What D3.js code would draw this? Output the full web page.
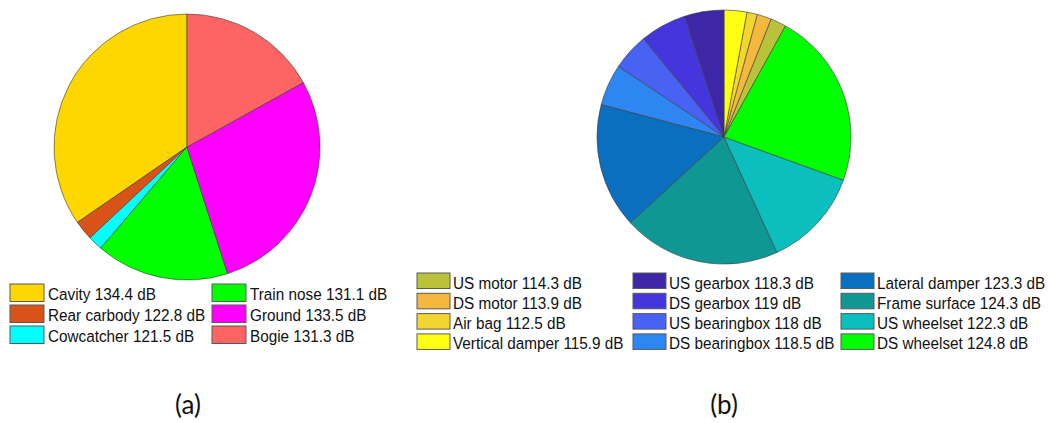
<!DOCTYPE html>
<html>
<head>
<meta charset="utf-8">
<script src="https://cdn.jsdelivr.net/npm/d3@7"></script>
<style>
  html, body { margin: 0; padding: 0; background: #fff; }
  svg { display: block; }
</style>
</head>
<body>
<svg id="chart" width="1048" height="423"></svg>
<script>
// (a) overall noise sources
const sourceNames = ["Cavity", "Rear carbody", "Cowcatcher", "Train nose", "Ground", "Bogie"];
const sourceLevels = [134.4, 122.8, 121.5, 131.1, 133.5, 131.3];
const sourceColors = ["#ffd700", "#d95319", "#00ffff", "#00ff00", "#ff00ff", "#ff6464"];

// (b) bogie component noise sources (listed column by column as in the legend)
const partNames = [
  "US motor", "DS motor", "Air bag", "Vertical damper",
  "US gearbox", "DS gearbox", "US bearingbox", "DS bearingbox",
  "Lateral damper", "Frame surface", "US wheelset", "DS wheelset"
];
const partLevels = [114.3, 113.9, 112.5, 115.9, 118.3, 119, 118, 118.5, 123.3, 124.3, 122.3, 124.8];
const partLabels = ["114.3", "113.9", "112.5", "115.9", "118.3", "119", "118", "118.5", "123.3", "124.3", "122.3", "124.8"];
const partColors = [
  "#b9c23a", "#f5b83f", "#f3d530", "#ffff14",
  "#3d27a6", "#4535dc", "#4862f4", "#2d86f2",
  "#0b6fc0", "#0f9893", "#0bbfbf", "#00ff00"
];
// order in which the slices run counter-clockwise from twelve o'clock
const partSliceOrder = [
  "US gearbox", "DS gearbox", "US bearingbox", "DS bearingbox",
  "Lateral damper", "Frame surface", "US wheelset", "DS wheelset",
  "US motor", "DS motor", "Air bag", "Vertical damper"
];
const panelLabels = ["(a)", "(b)"];

const svg = d3.select("#chart");

// slice size is the acoustic power share of each source
const power = db => Math.pow(10, db / 10);

function drawPie(cx, cy, r, items, sortFn) {
  const pie = d3.pie()
    .value(d => power(d.level))
    .sort(sortFn)
    .startAngle(0)
    .endAngle(-2 * Math.PI);
  const arc = d3.arc().innerRadius(0).outerRadius(r);
  svg.append("g")
    .attr("transform", `translate(${cx},${cy})`)
    .selectAll("path")
    .data(pie(items))
    .join("path")
    .attr("d", arc)
    .attr("fill", d => d.data.color)
    .attr("stroke", "#3a3a3a")
    .attr("stroke-width", 0.6)
    .attr("stroke-linejoin", "round");
}

function drawLegend(items, cols, opts) {
  const g = svg.append("g");
  items.forEach((d, i) => {
    const col = cols(i);
    const row = opts.row(i);
    const x = opts.colX[col];
    const y = opts.top + row * opts.pitch;
    g.append("rect")
      .attr("x", x).attr("y", y)
      .attr("width", opts.boxW).attr("height", opts.boxH)
      .attr("fill", d.color)
      .attr("stroke", "#5a5a5a")
      .attr("stroke-width", 1);
    g.append("text")
      .attr("transform", `translate(${x + opts.boxW + opts.gap},${y + 15.5}) scale(0.9,1)`)
      .attr("font-family", "'Liberation Sans', Arial, sans-serif")
      .attr("font-size", 17)
      .attr("fill", "#111")
      .text(d.text);
  });
}

// ---- panel (a)
const sources = sourceNames.map((n, i) => ({
  name: n, level: sourceLevels[i], color: sourceColors[i],
  text: `${n} ${sourceLevels[i]} dB`
}));
drawPie(187, 147, 133, sources, null);
drawLegend(sources, i => Math.floor(i / 3), {
  row: i => i % 3, colX: [10, 212], top: 284, pitch: 21,
  boxW: 34, boxH: 17.5, gap: 4
});

// ---- panel (b)
const parts = partNames.map((n, i) => ({
  name: n, level: partLevels[i], color: partColors[i],
  text: `${n} ${partLabels[i]} dB`
}));
drawPie(724, 137, 127, parts,
  (a, b) => partSliceOrder.indexOf(a.name) - partSliceOrder.indexOf(b.name));
drawLegend(parts, i => Math.floor(i / 4), {
  row: i => i % 4, colX: [417, 633, 841], top: 273, pitch: 20.3,
  boxW: 33, boxH: 15.5, gap: 3
});

// panel captions
svg.selectAll("text.panel")
  .data(panelLabels)
  .join("text")
  .attr("class", "panel")
  .attr("x", (d, i) => [188, 724][i])
  .attr("y", 414)
  .attr("text-anchor", "middle")
  .attr("font-family", "Lato, 'Open Sans', sans-serif")
  .attr("font-size", 26)
  .attr("fill", "#111")
  .text(d => d);
</script>
</body>
</html>
